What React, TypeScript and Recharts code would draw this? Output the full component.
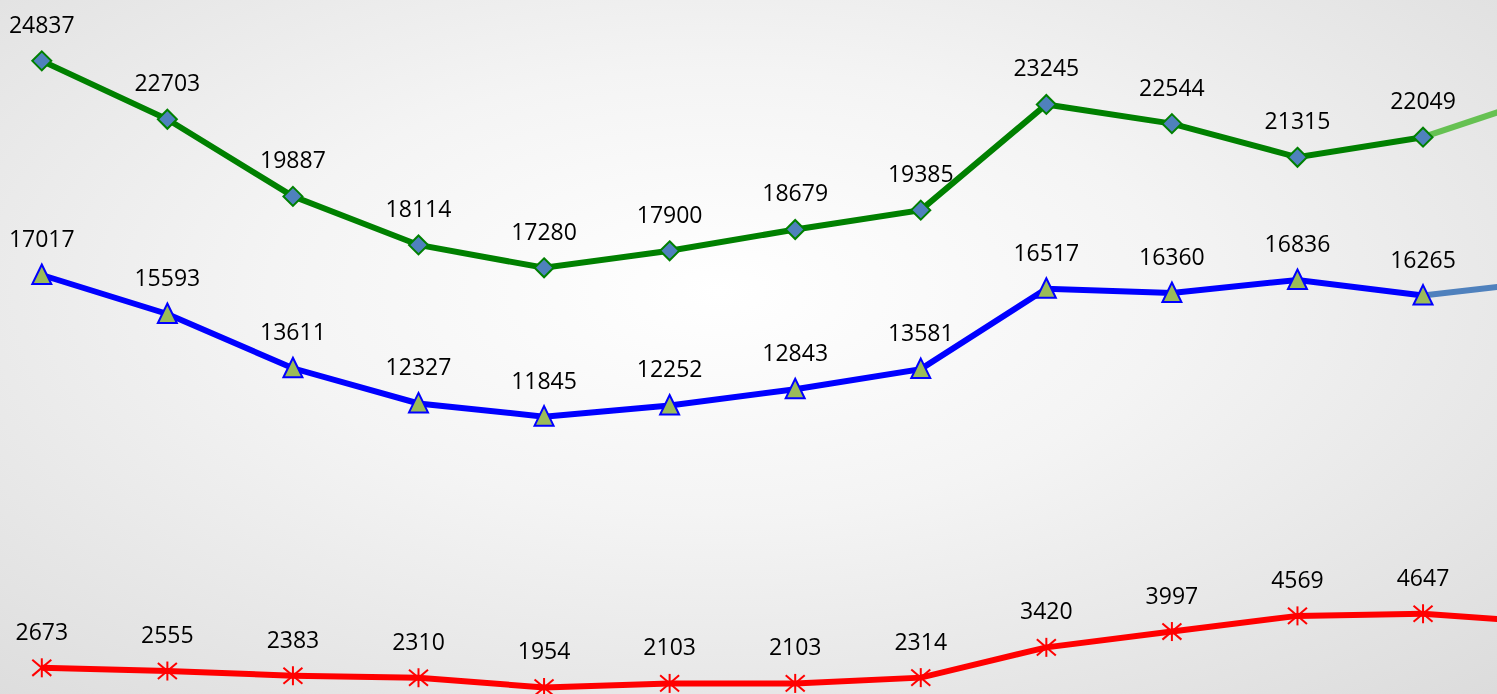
import { LineChart, Line, XAxis, YAxis, LabelList } from 'recharts'

const periods = ['P1', 'P2', 'P3', 'P4', 'P5', 'P6', 'P7', 'P8', 'P9', 'P10', 'P11', 'P12', 'P13']
const greenValues = [24837, 22703, 19887, 18114, 17280, 17900, 18679, 19385, 23245, 22544, 21315, 22049]
const blueValues = [17017, 15593, 13611, 12327, 11845, 12252, 12843, 13581, 16517, 16360, 16836, 16265]
const redValues = [2673, 2555, 2383, 2310, 1954, 2103, 2103, 2314, 3420, 3997, 4569, 4647]
// last period, off the right edge (only its segment shows)
const greenNext = 23580
const blueNext = 16800
const redNext = 4320

const last = greenValues.length - 1

const data = periods.map((period, i) => ({
  period,
  green: i <= last ? greenValues[i] : null,
  blue: i <= last ? blueValues[i] : null,
  red: i <= last ? redValues[i] : null,
  greenExt: i === last ? greenValues[last] : i > last ? greenNext : null,
  blueExt: i === last ? blueValues[last] : i > last ? blueNext : null,
  redExt: i === last ? redValues[last] : i > last ? redNext : null,
}))

const FONT = '"Open Sans", sans-serif'

const DiamondDot = (props: any) => {
  const { cx, cy, index } = props
  if (cx == null || cy == null || props.value == null) return <g key={`d-${index}`} />
  const r = 9.5
  return (
    <polygon
      key={`d-${index}`}
      points={`${cx},${cy - r} ${cx + r},${cy} ${cx},${cy + r} ${cx - r},${cy}`}
      fill="#4f81bd"
      stroke="#008000"
      strokeWidth={2}
    />
  )
}

const TriangleDot = (props: any) => {
  const { cx, cy, index } = props
  if (cx == null || cy == null || props.value == null) return <g key={`t-${index}`} />
  return (
    <polygon
      key={`t-${index}`}
      points={`${cx},${cy - 10.5} ${cx + 9.5},${cy + 9} ${cx - 9.5},${cy + 9}`}
      fill="#9bbb59"
      stroke="#0000ff"
      strokeWidth={2}
    />
  )
}

const StarDot = (props: any) => {
  const { cx, cy, index } = props
  if (cx == null || cy == null || props.value == null) return <g key={`s-${index}`} />
  const r = 9.5
  return (
    <g key={`s-${index}`} stroke="#ff0000" strokeWidth={2}>
      <line x1={cx} y1={cy - r} x2={cx} y2={cy + r} />
      <line x1={cx - r} y1={cy - r * 0.85} x2={cx + r} y2={cy + r * 0.85} />
      <line x1={cx - r} y1={cy + r * 0.85} x2={cx + r} y2={cy - r * 0.85} />
    </g>
  )
}

const ValueLabel = (props: any) => {
  const { x, y, value, index } = props
  if (value == null || x == null || y == null) return null
  return (
    <text
      key={`l-${index}`}
      x={x}
      y={y - 28}
      textAnchor="middle"
      fontFamily={FONT}
      fontSize={23}
      fill="#000000"
    >
      {value}
    </text>
  )
}

export default function App() {
  return (
    <div
      style={{
        position: 'fixed',
        top: 0,
        left: 0,
        width: 1497,
        height: 694,
        overflow: 'hidden',
        background: 'radial-gradient(ellipse 75% 80% at 48% 42%, #ffffff 0%, #f4f4f4 40%, #dcdcdc 100%)',
      }}
    >
      <LineChart
        width={1561}
        height={760}
        data={data}
        margin={{ top: 29, right: 12.4, bottom: 19, left: 41.8 }}
      >
        <XAxis dataKey="period" hide padding={{ left: 0, right: 0 }} />
        <YAxis hide domain={[0, 26000]} />
        <Line dataKey="greenExt" stroke="#66c152" strokeWidth={6} dot={false} isAnimationActive={false} />
        <Line dataKey="blueExt" stroke="#4f81bd" strokeWidth={6} dot={false} isAnimationActive={false} />
        <Line dataKey="redExt" stroke="#ff0000" strokeWidth={6} dot={false} isAnimationActive={false} />
        <Line dataKey="green" stroke="#008000" strokeWidth={6} dot={DiamondDot} activeDot={false} isAnimationActive={false}>
          <LabelList dataKey="green" content={ValueLabel} />
        </Line>
        <Line dataKey="blue" stroke="#0000ff" strokeWidth={6} dot={TriangleDot} activeDot={false} isAnimationActive={false}>
          <LabelList dataKey="blue" content={ValueLabel} />
        </Line>
        <Line dataKey="red" stroke="#ff0000" strokeWidth={6} dot={StarDot} activeDot={false} isAnimationActive={false}>
          <LabelList dataKey="red" content={ValueLabel} />
        </Line>
      </LineChart>
    </div>
  )
}
